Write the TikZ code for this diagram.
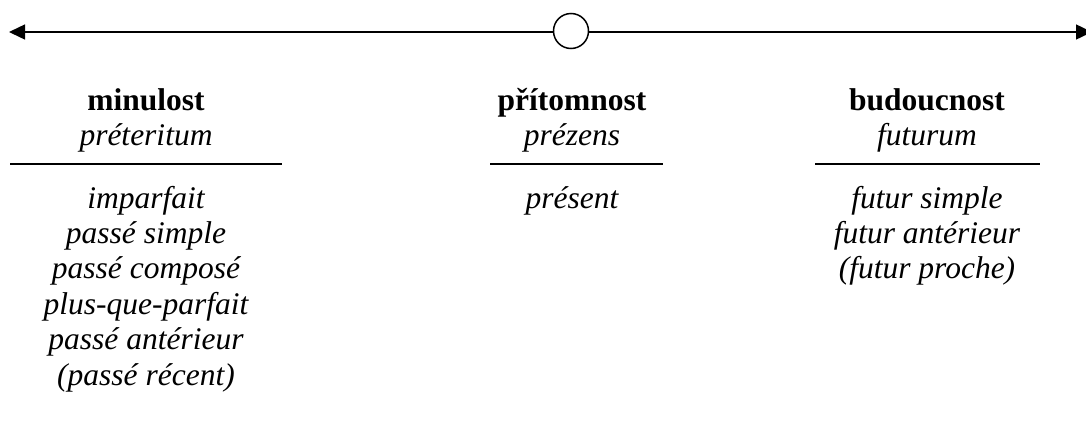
\documentclass[tikz,border=0pt]{standalone}
\usepackage{fontspec}
\setmainfont{Liberation Serif}
\usetikzlibrary{arrows.meta}
\tikzset{
  axis/.style={line width=1.4pt, -{Triangle[length=16pt,width=15pt]}},
  heading/.style={anchor=base, inner sep=0pt, font=\fontsize{31.5}{35}\selectfont\bfseries},
  term/.style={anchor=base, inner sep=0pt, font=\fontsize{31.5}{35}\selectfont\itshape},
  rulestyle/.style={line width=2pt},
}
\begin{document}
\begin{tikzpicture}[x=1pt,y=-1pt]
\useasboundingbox (0,0) rectangle (1086,426);
% time axis with the present moment marked by a circle
\node[circle, draw, line width=1.5pt, fill=white, minimum size=35pt, inner sep=0pt] (now) at (571,31) {};
\coordinate (past) at (9,32);
\coordinate (future) at (1092,32);
\coordinate (nowL) at (553.5,32);
\coordinate (nowR) at (588.5,32);
\draw[axis] (nowL) -- (past);
\draw[axis] (nowR) -- (future);
\coordinate (sa) at (452,32);
\coordinate (sb) at (532,32);
\draw[line width=2.2pt] (sa) -- (sb);

% column headings
\node[heading] (h1) at (146,110) {minulost};
\node[term]    (s1) at (146,145) {préteritum};
\node[heading] (h2) at (572,110) {přítomnost};
\node[term]    (s2) at (572,145) {prézens};
\node[heading] (h3) at (927,110) {budoucnost};
\node[term]    (s3) at (927,145) {futurum};

% rules under the headings
\coordinate (r1a) at (10,164);  \coordinate (r1b) at (282,164);
\coordinate (r2a) at (490,164); \coordinate (r2b) at (663,164);
\coordinate (r3a) at (815,164); \coordinate (r3b) at (1040,164);
\draw[rulestyle] (r1a) -- (r1b);
\draw[rulestyle] (r2a) -- (r2b);
\draw[rulestyle] (r3a) -- (r3b);

% French tenses
\foreach \t [count=\i from 0] in {imparfait, passé simple, passé composé, plus-que-parfait, passé antérieur, (passé récent)}
  \node[term] (p\i) at (146,208+35.4*\i) {\t};
\node[term] (q0) at (572,208) {présent};
\foreach \t [count=\i from 0] in {futur simple, futur antérieur, (futur proche)}
  \node[term] (f\i) at (927,208+35.4*\i) {\t};
\end{tikzpicture}
\end{document}
